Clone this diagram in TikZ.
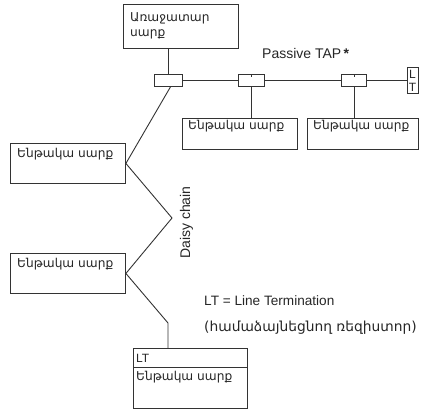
\documentclass[tikz,border=0pt]{standalone}
\usepackage{fontspec}
\setmainfont{DejaVu Sans}
\newfontfamily\latinf{Liberation Sans}
\begin{document}
\begin{tikzpicture}[x=1pt,y=-1pt,
  ln/.style={draw=black!80, line width=0.9pt},
  boxnode/.style={ln, rectangle, inner sep=0pt, anchor=north west},
  arm/.style={font=\fontsize{12.2}{15}\selectfont, inner sep=0pt, anchor=base west, text=black!85},
  lat/.style={font=\latinf\fontsize{14}{17}\selectfont, inner sep=0pt, anchor=base west, text=black!85}]
\useasboundingbox (0,0) rectangle (429,410);
% boxes
\node[boxnode, minimum width=115pt, minimum height=44pt] (master) at (123,4) {};
\node[boxnode, minimum width=28pt, minimum height=12pt] (tap1) at (154,74) {};
\node[boxnode, minimum width=26pt, minimum height=12pt] (tap2) at (238,74) {};
\node[boxnode, minimum width=25pt, minimum height=12pt] (tap3) at (341,74) {};
\node[boxnode, minimum width=11pt, minimum height=26pt] (ltsmall) at (407,67) {};
\node[boxnode, minimum width=115pt, minimum height=31pt] (slaveA) at (182,118) {};
\node[boxnode, minimum width=111pt, minimum height=31pt] (slaveB) at (307,118) {};
\node[boxnode, minimum width=115pt, minimum height=40pt] (left1) at (10,143) {};
\node[boxnode, minimum width=115pt, minimum height=40pt] (left2) at (10,253) {};
\node[boxnode, minimum width=114pt, minimum height=60pt] (ltbox) at (133,348) {};
\coordinate (div) at (133,367);
\draw[ln] (div) -- (div -| ltbox.east);
% texts
\node[arm] (tmaster1) at (130,21) {Առաջատար};
\node[arm] (tmaster2) at (130,36) {սարք};
\node[arm] (tA) at (188,129) {Ենթակա սարք};
\node[arm] (tB) at (313,129) {Ենթակա սարք};
\node[arm] (tL1) at (17,157) {Ենթակա սարք};
\node[arm] (tL2) at (17,267) {Ենթակա սարք};
\node[arm] (tL3) at (136,380) {Ենթակա սարք};
\node[lat, font=\latinf\fontsize{12}{14}\selectfont] (tLT) at (136,362) {LT};
\node[lat, font=\latinf\fontsize{12}{14}\selectfont, anchor=base] (tL) at (412.5,78) {L};
\node[lat, font=\latinf\fontsize{12}{14}\selectfont, anchor=base] (tT) at (412.5,91) {T};
\node[lat] (tpassive) at (262,58) {Passive TAP\,{\bfseries *}};
\node[lat, rotate=90] (tdaisy) at (190,259) {Daisy chain};
\node[lat, font=\latinf\fontsize{13.6}{17}\selectfont] (tnote1) at (204,305) {LT = Line Termination};
\node[arm, font=\fontsize{13.8}{15}\selectfont] (tnote2) at (204,331) {(համաձայնեցնող ռեզիստոր)};
% connectors
\draw[ln] (tap1.north |- master.south) -- (tap1.north);
\draw[ln] (tap1.east) -- (tap2.west);
\draw[ln] (tap2.east) -- (tap3.west);
\draw[ln] (tap3.east) -- (ltsmall.west);
\draw[ln] (tap2.south) -- (tap2.south |- slaveA.north);
\draw[ln] (tap3.south) -- (tap3.south |- slaveB.north);
\draw[ln] (tap2.north) -- ++(0,3);
\draw[ln] (tap3.north) -- ++(0,3);
\coordinate (v) at (172,218);
\coordinate (k) at (168,323);
\draw[ln] ([xshift=2pt]tap1.south) -- (left1.east);
\draw[ln] (left1.east) -- (v) -- (left2.east);
\draw[ln] (left2.east) -- (k) -- (k |- ltbox.north);
\end{tikzpicture}
\end{document}
